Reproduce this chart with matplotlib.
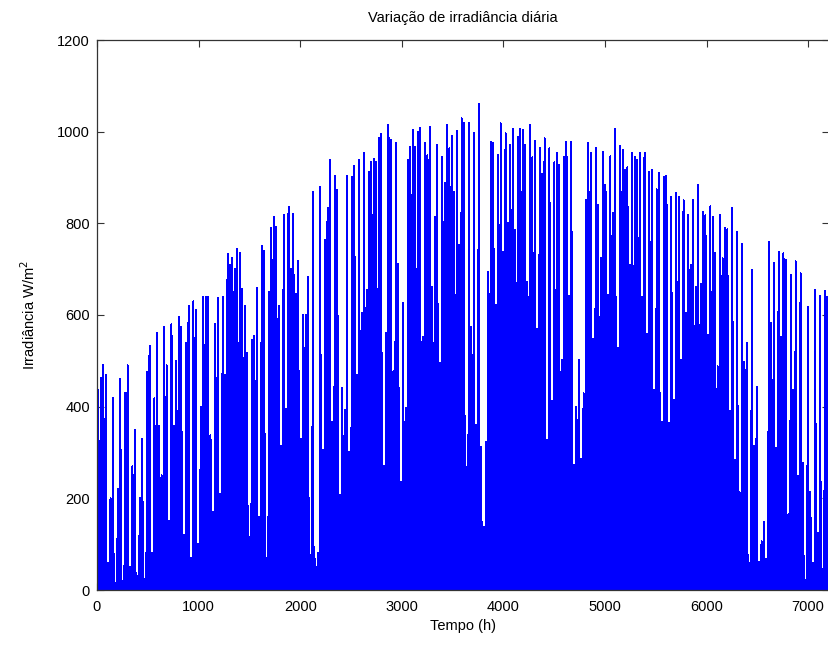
import numpy as np
import matplotlib
matplotlib.use("Agg")
import matplotlib.pyplot as plt

# daily peak irradiance (W/m2), one value per day (300 days)
peaks_jan_feb = [436, 463, 490, 470, 60, 200, 420, 15, 220, 460,
                 20, 430, 490, 50, 270, 350, 30, 200, 330, 25,
                 475, 533, 80, 418, 560, 357, 250, 575, 490, 150,
                 580, 357, 500, 595, 575, 120, 540, 620, 70, 630,
                 610, 100, 400, 640]
peaks_feb_mar = [640, 640, 338, 170, 580, 638, 210, 640, 470, 733,
                 710, 725, 700, 745, 735, 656, 620, 517, 115, 545,
                 555, 660, 160, 750, 740, 70, 650, 790, 815, 793,
                 620, 315, 818, 396, 836, 700, 820, 647, 717, 330,
                 600]
peaks_apr_may = [600, 684, 77, 869, 68, 80, 879, 305, 764, 834,
                 938, 367, 904, 873, 207, 440, 393, 903, 302, 902,
                 926, 469, 938, 604, 954, 655, 913, 935, 940, 935,
                 986, 995, 271, 560, 1015, 983, 477, 975, 711, 236,
                 627, 397, 938, 967, 1004]
peaks_may_jun = [967, 1000, 1008, 553, 976, 949, 1011, 662, 815, 971,
                 495, 944, 888, 1015, 964, 991, 869, 1002, 753, 1029,
                 1018, 269, 1018, 575, 997, 360, 1060, 313, 138, 324,
                 695, 978, 975, 622, 949, 1018, 738, 997, 800, 971,
                 1005, 786, 989]
peaks_jun_aug = [1005, 1004, 971, 673, 1015, 944, 980, 569, 964, 907,
                 986, 328, 964, 413, 933, 954, 928, 502, 944, 978,
                 642, 978, 273, 400, 502, 285, 429, 851, 975, 953,
                 547, 964, 840, 724, 956, 884, 644, 946, 822, 1005,
                 528, 969, 960, 917]
peaks_aug_sep = [922, 709, 954, 944, 938, 954, 639, 954, 559, 913,
                 917, 437, 874, 911, 367, 902, 904, 364, 858, 415,
                 866, 858, 502, 850, 604, 818, 709, 851, 662, 884,
                 668, 824, 818, 557, 837, 815, 735, 488, 818, 724,
                 789]
peaks_sep_oct = [787, 391, 834, 284, 782, 213, 755, 498, 538, 58,
                 698, 314, 444, 62, 106, 149, 68, 760, 582, 713,
                 311, 738, 553, 735, 720, 165, 688, 437, 717, 249,
                 691, 277, 22, 618, 215, 58, 655, 125, 642, 45,
                 653, 640]

# relative shape of a day, hour 0..23
day_profile = [0, 0, 0, 0, 0, 0.02, 0.06, 0.13, 0.24, 0.38, 0.55, 0.75,
               0.92, 1.0, 0.90, 0.72, 0.52, 0.35, 0.21, 0.11, 0.04, 0.01, 0, 0]

x_ticks = [0, 1000, 2000, 3000, 4000, 5000, 6000, 7000]
y_ticks = [0, 200, 400, 600, 800, 1000, 1200]


def hourly_series(peaks, profile):
    p = np.asarray(peaks, dtype=float)
    shape = np.asarray(profile, dtype=float)
    irr = (p[:, None] * shape[None, :]).ravel()
    t = np.arange(irr.size)
    return t, irr


def plot_irradiance(out_path="out.png"):
    plt.rcParams["font.family"] = ["Liberation Sans", "DejaVu Sans"]
    peaks = (peaks_jan_feb + peaks_feb_mar + peaks_apr_may + peaks_may_jun
             + peaks_jun_aug + peaks_aug_sep + peaks_sep_oct)
    t, irr = hourly_series(peaks, day_profile)

    fig = plt.figure(figsize=(8.29, 6.45), dpi=100)
    ax = fig.add_axes([97 / 829, 1 - 590 / 645,
                       (828.5 - 97) / 829, 550 / 645])
    ax.plot(t, irr, color="#0000ff", linewidth=0.72, antialiased=False)

    ax.set_xlim(0, 7200)
    ax.set_ylim(0, 1200)
    ax.set_xticks(x_ticks)
    ax.set_yticks(y_ticks)
    ax.tick_params(direction="in", top=True, right=True,
                   length=5, width=0.8, labelsize=10.5, color="#333333")
    ax.tick_params(axis="x", pad=7)
    ax.tick_params(axis="y", pad=5)
    for s in ax.spines.values():
        s.set_color("#333333")
        s.set_linewidth(0.9)

    ax.set_title("Variação de irradiância diária", fontsize=10.5, pad=13)
    ax.set_xlabel("Tempo (h)", fontsize=10.5, labelpad=4)
    ax.set_ylabel("Irradiância W/m$^2$", fontsize=10.5, labelpad=14)

    fig.savefig(out_path, dpi=100)


if __name__ == "__main__":
    plot_irradiance()
